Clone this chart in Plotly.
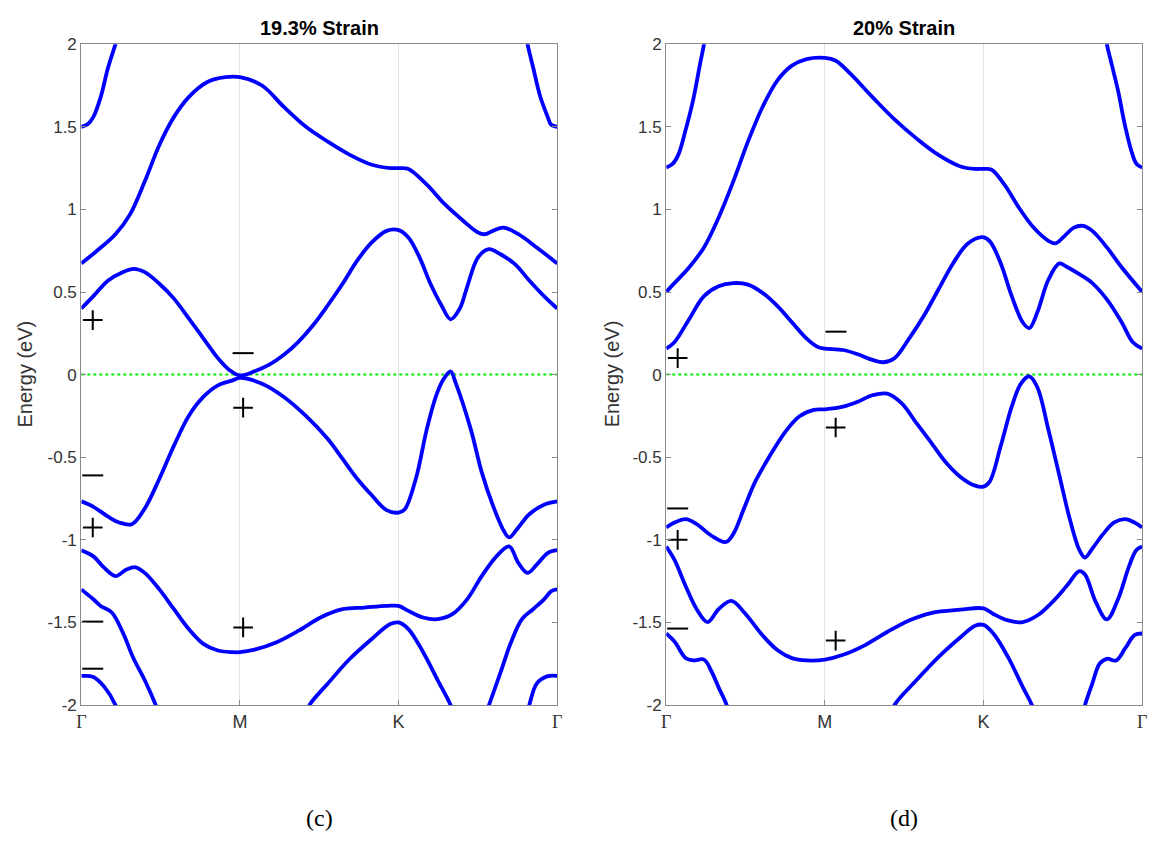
import plotly.graph_objects as go

# ---------------- k-path: Γ=0, M=1, K=2, Γ=3 ----------------
kpath_vals = [0, 1, 2, 3]
kpath_labels = ["Γ", "M", "K", "Γ"]
energy_ticks = [-2, -1.5, -1, -0.5, 0, 0.5, 1, 1.5, 2]
energy_tick_labels = ["-2", "-1.5", "-1", "-0.5", "0", "0.5", "1", "1.5", "2"]
titles = ["19.3% Strain", "20% Strain"]
panel_labels = ["(c)", "(d)"]

# ---------------- 19.3 % strain bands ----------------
c_A_k = [0, 0.04, 0.076, 0.122, 0.169, 0.215, 0.25, None, 2.79, 2.813, 2.848, 2.894, 2.94, 2.96, 3.0]
c_A_e = [1.5, 1.515, 1.56, 1.68, 1.86, 2.0, 2.12, None, 2.12, 2.0, 1.86, 1.68, 1.56, 1.515, 1.5]

c_B_k = [0, 0.099, 0.215, 0.307, 0.40, 0.492, 0.584, 0.677, 0.792, 0.908, 1.0, 1.139, 1.277, 1.416,
         1.554, 1.693, 1.831, 1.947, 2.0, 2.062, 2.178, 2.293, 2.409, 2.501, 2.547, 2.594, 2.663,
         2.755, 2.871, 3.0]
c_B_e = [0.673, 0.75, 0.85, 0.97, 1.17, 1.39, 1.56, 1.68, 1.77, 1.80, 1.80, 1.75, 1.62, 1.50,
         1.41, 1.33, 1.27, 1.25, 1.25, 1.245, 1.15, 1.03, 0.93, 0.86, 0.85, 0.87, 0.89,
         0.85, 0.77, 0.673]

c_C_k = [0, 0.076, 0.169, 0.261, 0.330, 0.40, 0.492, 0.584, 0.677, 0.769, 0.861, 0.931, 1.0,
         1.092, 1.185, 1.277, 1.37, 1.462, 1.554, 1.647, 1.739, 1.831, 1.924, 2.0, 2.062, 2.132,
         2.201, 2.27, 2.328, 2.386, 2.432, 2.501, 2.570, 2.64, 2.732, 2.824, 2.917, 3.0]
c_C_e = [0.40, 0.475, 0.57, 0.62, 0.64, 0.62, 0.55, 0.46, 0.34, 0.22, 0.10, 0.03, -0.005,
         0.02, 0.06, 0.12, 0.20, 0.30, 0.42, 0.55, 0.69, 0.80, 0.87, 0.875, 0.83, 0.71,
         0.55, 0.42, 0.335, 0.40, 0.53, 0.71, 0.76, 0.73, 0.67, 0.57, 0.475, 0.40]

c_D_k = [0, 0.076, 0.169, 0.238, 0.319, 0.40, 0.492, 0.584, 0.677, 0.769, 0.861, 0.954, 1.0,
         1.139, 1.277, 1.416, 1.554, 1.647, 1.739, 1.831, 1.924, 2.0, 2.039, 2.109, 2.178,
         2.236, 2.282, 2.328, 2.36, 2.455, 2.524, 2.594, 2.663, 2.697, 2.755, 2.824, 2.917, 3.0]
c_D_e = [-0.767, -0.80, -0.86, -0.895, -0.905, -0.81, -0.63, -0.43, -0.25, -0.135, -0.065, -0.035, -0.02,
         -0.055, -0.135, -0.25, -0.39, -0.51, -0.63, -0.73, -0.82, -0.835, -0.815, -0.63, -0.33,
         -0.13, -0.03, 0.02, -0.05, -0.33, -0.59, -0.79, -0.945, -0.985, -0.925, -0.845, -0.787, -0.767]

c_E_k = [0, 0.076, 0.145, 0.215, 0.284, 0.342, 0.40, 0.492, 0.584, 0.677, 0.769, 0.861, 0.954, 1.0,
         1.092, 1.231, 1.37, 1.508, 1.647, 1.785, 1.924, 2.0, 2.062, 2.155, 2.247, 2.339, 2.432,
         2.524, 2.617, 2.697, 2.755, 2.813, 2.871, 2.94, 3.0]
c_E_e = [-1.063, -1.10, -1.17, -1.22, -1.18, -1.166, -1.20, -1.30, -1.42, -1.54, -1.63, -1.67, -1.68, -1.68,
         -1.665, -1.62, -1.55, -1.47, -1.42, -1.41, -1.40, -1.40, -1.43, -1.47, -1.48, -1.45, -1.36,
         -1.22, -1.10, -1.04, -1.14, -1.20, -1.15, -1.08, -1.063]

c_F_k = [0, 0.076, 0.122, 0.192, 0.261, 0.330, 0.40, 0.469, 0.50, None, 1.41, 1.439, 1.554, 1.693,
         1.831, 1.947, 2.0, 2.062, 2.155, 2.247, 2.328, 2.36, None, 2.54, 2.570, 2.64, 2.709,
         2.778, 2.848, 2.917, 2.963, 3.0]
c_F_e = [-1.30, -1.36, -1.40, -1.44, -1.56, -1.72, -1.85, -2.0, -2.08, None, -2.08, -2.0, -1.87, -1.72,
         -1.60, -1.51, -1.50, -1.54, -1.68, -1.85, -2.0, -2.08, None, -2.08, -2.0, -1.81, -1.62,
         -1.48, -1.42, -1.36, -1.31, -1.30]

c_G_k = [0, 0.076, 0.145, 0.215, 0.24, None, 2.80, 2.824, 2.871, 2.94, 3.0]
c_G_e = [-1.824, -1.83, -1.89, -2.0, -2.08, None, -2.08, -2.0, -1.87, -1.825, -1.824]

# ---------------- 20 % strain bands ----------------
d_A_k = [0, 0.04, 0.076, 0.122, 0.169, 0.215, 0.238, 0.255, None, 2.76, 2.778, 2.813, 2.848, 2.894, 2.94, 2.965, 3.0]
d_A_e = [1.253, 1.275, 1.33, 1.48, 1.66, 1.89, 2.0, 2.12, None, 2.12, 2.0, 1.86, 1.72, 1.5, 1.33, 1.275, 1.253]

d_B_k = [0, 0.053, 0.145, 0.238, 0.330, 0.423, 0.515, 0.607, 0.70, 0.792, 0.885, 1.0, 1.069, 1.162,
         1.30, 1.439, 1.577, 1.716, 1.855, 1.947, 2.0, 2.051, 2.132, 2.224, 2.316, 2.409, 2.455,
         2.501, 2.57, 2.628, 2.686, 2.778, 2.871, 3.0]
d_B_e = [0.501, 0.555, 0.65, 0.77, 0.95, 1.17, 1.41, 1.62, 1.78, 1.87, 1.91, 1.917, 1.90, 1.82,
         1.68, 1.545, 1.43, 1.33, 1.26, 1.245, 1.245, 1.24, 1.15, 1.01, 0.89, 0.81, 0.795,
         0.83, 0.89, 0.90, 0.87, 0.77, 0.65, 0.501]

d_C_k = [0, 0.053, 0.145, 0.238, 0.330, 0.423, 0.515, 0.607, 0.70, 0.792, 0.885, 0.954, 1.0,
         1.115, 1.208, 1.30, 1.37, 1.439, 1.531, 1.624, 1.716, 1.808, 1.90, 1.993, 2.039, 2.109,
         2.178, 2.247, 2.289, 2.339, 2.409, 2.478, 2.524, 2.594, 2.686, 2.778, 2.871, 2.94, 3.0]
d_C_e = [0.158, 0.198, 0.337, 0.475, 0.535, 0.554, 0.545, 0.495, 0.416, 0.317, 0.218, 0.168, 0.158,
         0.149, 0.123, 0.089, 0.075, 0.099, 0.218, 0.356, 0.515, 0.673, 0.792, 0.832, 0.808, 0.673,
         0.475, 0.317, 0.281, 0.376, 0.574, 0.673, 0.653, 0.614, 0.554, 0.455, 0.317, 0.198, 0.158]

d_D_k = [0, 0.053, 0.122, 0.192, 0.284, 0.376, 0.423, 0.492, 0.561, 0.654, 0.746, 0.838, 0.931, 1.0,
         1.115, 1.208, 1.30, 1.393, 1.485, 1.577, 1.67, 1.762, 1.855, 1.947, 2.0, 2.039, 2.109,
         2.178, 2.236, 2.289, 2.339, 2.409, 2.478, 2.547, 2.605, 2.64, 2.686, 2.755, 2.824, 2.894,
         2.952, 3.0]
d_D_e = [-0.925, -0.895, -0.875, -0.905, -0.974, -1.013, -0.964, -0.806, -0.648, -0.49, -0.352, -0.253, -0.213, -0.21,
         -0.194, -0.164, -0.125, -0.115, -0.174, -0.293, -0.411, -0.53, -0.619, -0.672, -0.678, -0.648, -0.431,
         -0.194, -0.055, -0.01, -0.075, -0.332, -0.609, -0.885, -1.063, -1.107, -1.053, -0.964, -0.895, -0.875,
         -0.895, -0.925]

d_E_k = [0, 0.053, 0.122, 0.192, 0.261, 0.330, 0.411, 0.492, 0.607, 0.70, 0.792, 0.885, 1.0,
         1.115, 1.254, 1.393, 1.531, 1.67, 1.855, 2.0, 2.062, 2.155, 2.247, 2.339, 2.432, 2.524,
         2.605, 2.64, 2.709, 2.778, 2.848, 2.917, 2.963, 3.0]
d_E_e = [-1.04, -1.123, -1.28, -1.42, -1.498, -1.42, -1.37, -1.44, -1.578, -1.667, -1.716, -1.73, -1.725,
         -1.696, -1.637, -1.558, -1.488, -1.443, -1.423, -1.415, -1.449, -1.488, -1.498, -1.458, -1.379, -1.28,
         -1.19, -1.21, -1.379, -1.482, -1.36, -1.162, -1.063, -1.04]

d_F_k = [0, 0.053, 0.122, 0.169, 0.238, 0.284, 0.330, 0.381, 0.40, None, 1.41, 1.439, 1.577, 1.716,
         1.855, 1.947, 2.0, 2.062, 2.155, 2.247, 2.305, 2.33, None, 2.62, 2.64, 2.686, 2.732,
         2.778, 2.836, 2.894, 2.952, 3.0]
d_F_e = [-1.567, -1.617, -1.715, -1.73, -1.725, -1.794, -1.893, -2.0, -2.08, None, -2.08, -2.0, -1.85, -1.71,
         -1.59, -1.52, -1.515, -1.567, -1.71, -1.89, -2.0, -2.08, None, -2.08, -2.0, -1.87, -1.75,
         -1.72, -1.73, -1.656, -1.577, -1.567]

# ---------------- parity labels ----------------
c_plus_k = [0.072, 0.072, 1.02, 1.02]
c_plus_e = [0.33, -0.925, -0.20, -1.53]
c_minus_k = [0.072, 0.072, 0.072, 1.02]
c_minus_e = [-0.61, -1.495, -1.78, 0.13]
d_plus_k = [0.072, 0.072, 1.068, 1.068]
d_plus_e = [0.10, -1.0, -0.32, -1.61]
d_minus_k = [0.072, 0.072, 1.07]
d_minus_e = [-0.81, -1.537, 0.26]

panels = [
    dict(bands=[(c_A_k, c_A_e), (c_B_k, c_B_e), (c_C_k, c_C_e), (c_D_k, c_D_e),
                (c_E_k, c_E_e), (c_F_k, c_F_e), (c_G_k, c_G_e)],
         plus=(c_plus_k, c_plus_e), minus=(c_minus_k, c_minus_e)),
    dict(bands=[(d_A_k, d_A_e), (d_B_k, d_B_e), (d_C_k, d_C_e), (d_D_k, d_D_e),
                (d_E_k, d_E_e), (d_F_k, d_F_e)],
         plus=(d_plus_k, d_plus_e), minus=(d_minus_k, d_minus_e)),
]

BLUE = "#0000ff"
TXT = "#333333"
SANS = "Liberation Sans, Arial, sans-serif"
SERIF = "Liberation Serif, Times New Roman, serif"

fig = go.Figure()
x_domains = [[77 / 1159, 557 / 1159], [667 / 1159, 1147 / 1159]]
y_domain = [1 - 712 / 848, 1 - 36 / 848]

for i, p in enumerate(panels):
    xa = "x" if i == 0 else "x2"
    ya = "y" if i == 0 else "y2"
    # Fermi level
    fig.add_trace(go.Scatter(x=[kpath_vals[0], kpath_vals[-1]], y=[0, 0], mode="lines",
                             line=dict(color="#00ee00", width=2, dash="dot"),
                             xaxis=xa, yaxis=ya, hoverinfo="skip", showlegend=False))
    for kk, ee in p["bands"]:
        fig.add_trace(go.Scatter(x=kk, y=ee, mode="lines",
                                 line=dict(color=BLUE, width=3.8, shape="spline", smoothing=1.0),
                                 connectgaps=False, xaxis=xa, yaxis=ya, showlegend=False))
    fig.add_trace(go.Scatter(x=p["plus"][0], y=p["plus"][1], mode="markers",
                             marker=dict(symbol="cross-thin", size=14,
                                         line=dict(color="black", width=2)),
                             xaxis=xa, yaxis=ya, showlegend=False, cliponaxis=False))
    fig.add_trace(go.Scatter(x=p["minus"][0], y=p["minus"][1], mode="markers",
                             marker=dict(symbol="line-ew", size=15,
                                         line=dict(color="black", width=2)),
                             xaxis=xa, yaxis=ya, showlegend=False, cliponaxis=False))

tick_text_x = [f'<span style="font-family:{SERIF}">{t}</span>' if t == "Γ" else t
               for t in kpath_labels]

axis_common_x = dict(range=[kpath_vals[0], kpath_vals[-1]], tickvals=kpath_vals, ticktext=tick_text_x,
                     showgrid=True, gridcolor="#e3e3e3", gridwidth=1, zeroline=False,
                     showline=True, linecolor="#8a8a8a", linewidth=1.2, mirror=True,
                     ticks="inside", ticklen=5, tickcolor="#8a8a8a",
                     tickfont=dict(family=SANS, size=18, color=TXT))
axis_common_y = dict(range=[-2, 2], tickvals=energy_ticks, ticktext=energy_tick_labels,
                     showgrid=False, zeroline=False, domain=y_domain,
                     showline=True, linecolor="#8a8a8a", linewidth=1.2, mirror="ticks",
                     ticks="inside", ticklen=5, tickcolor="#8a8a8a",
                     tickfont=dict(family=SANS, size=17, color=TXT))

fig.update_layout(
    width=1159, height=848,
    margin=dict(l=0, r=0, t=0, b=0),
    paper_bgcolor="white", plot_bgcolor="white",
    showlegend=False,
    xaxis=dict(domain=x_domains[0], anchor="y", **axis_common_x),
    xaxis2=dict(domain=x_domains[1], anchor="y2", **axis_common_x),
    yaxis=dict(anchor="x", **axis_common_y),
    yaxis2=dict(anchor="x2", **axis_common_y),
)

annotations = []
for i in range(2):
    cx = (x_domains[i][0] + x_domains[i][1]) / 2
    annotations.append(dict(text=f"<b>{titles[i]}</b>", x=cx, y=1 - 19 / 848, xref="paper", yref="paper",
                            showarrow=False, font=dict(family=SANS, size=20, color="black"),
                            xanchor="center", yanchor="middle"))
    annotations.append(dict(text=panel_labels[i], x=cx, y=1 - 828 / 848, xref="paper", yref="paper",
                            showarrow=False, font=dict(family=SERIF, size=24, color="black"),
                            xanchor="center", yanchor="middle"))
    annotations.append(dict(text="Energy (eV)", x=(20 if i == 0 else 612) / 1159, y=1 - 373 / 848,
                            xref="paper", yref="paper", textangle=-90, showarrow=False,
                            font=dict(family=SANS, size=20, color=TXT),
                            xanchor="center", yanchor="middle"))
fig.update_layout(annotations=annotations)

fig.write_html("out.html")
